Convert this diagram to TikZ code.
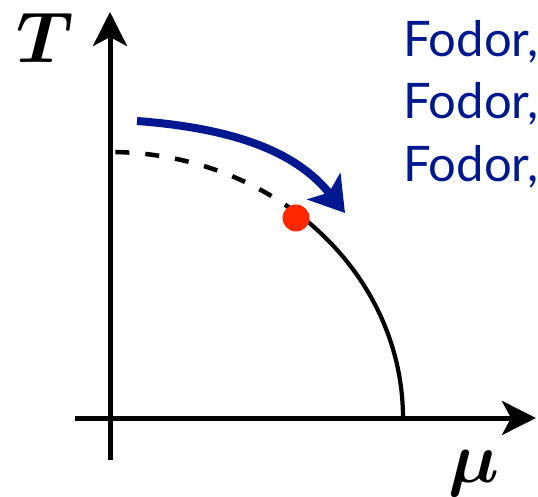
\documentclass[tikz,border=0pt]{standalone}
\usepackage{fontspec}
\usepackage{graphicx}
\newfontfamily\fodorfont{Lato}
\usetikzlibrary{arrows.meta}
\definecolor{navy}{RGB}{0,24,143}
\definecolor{cpred}{RGB}{255,40,0}
\tikzset{
  axis/.style={line width=5pt,-{Stealth[length=34pt,width=34pt,inset=9pt]}},
  crossover/.style={line width=4.5pt,dash pattern=on 14pt off 16pt},
  firstorder/.style={line width=4.2pt},
  flow/.style={line width=8pt,navy,-{Stealth[length=34pt,width=42pt,inset=8pt]}},
  lbl/.style={inner sep=0pt},
  reftext/.style={inner sep=0pt,anchor=base west,text=navy,font=\fodorfont\fontsize{49}{49}\selectfont}
}
\begin{document}
\begin{tikzpicture}[x=1pt,y=-1pt]
\useasboundingbox (0,0) rectangle (538,497);
\coordinate (vbot) at (110,460);
\coordinate (vtop) at (110,12);
\coordinate (hleft) at (75,418);
\coordinate (hright) at (536,418);
\draw[axis] (vbot) -- (vtop);
\draw[axis] (hleft) -- (hright);
\node[lbl] (T) at (45,38) {\scalebox{7.2}{\boldmath$T$}};
\node[lbl,anchor=north] (mu) at (474,450) {\scalebox{7.2}{\boldmath$\mu$}};
% crossover (dashed) and first-order line (solid): ellipse arc centred at origin
\draw[crossover] plot[domain=50.5:90,samples=60,smooth] ({110+293*cos(\x)},{418-266*sin(\x)});
\draw[firstorder] plot[domain=0:50.5,samples=60,smooth] ({110+293*cos(\x)},{418-266*sin(\x)});
\node[circle,fill=cpred,minimum size=27pt,inner sep=0pt] (cep) at (296,218) {};
% arrow
\coordinate (fstart) at (137,121);
\coordinate (fend) at (345,213);
\draw[flow] (fstart) .. controls (230,128) and (295,150) .. (fend);
\node[reftext] (f1) at (403,57) {Fodor,};
\node[reftext] (f2) at (403,119) {Fodor,};
\node[reftext] (f3) at (403,182) {Fodor,};
\end{tikzpicture}
\end{document}
